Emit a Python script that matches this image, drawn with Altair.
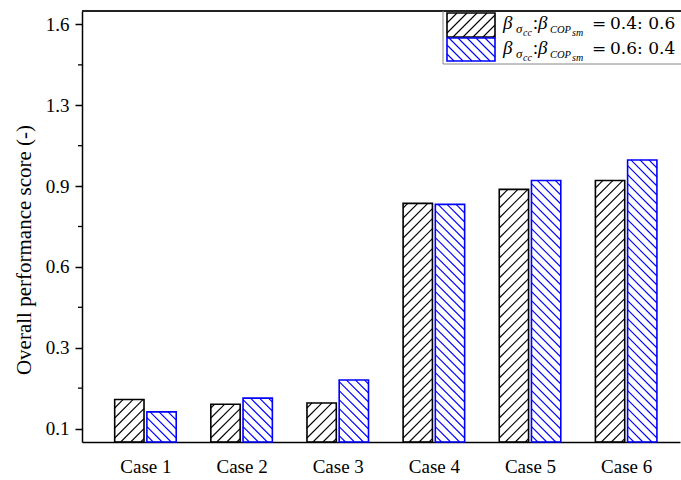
import altair as alt
import pandas as pd
import numpy as np

# ---------------- data ----------------
cases = ["Case 1", "Case 2", "Case 3", "Case 4", "Case 5", "Case 6"]
series_names = ["0.4: 0.6", "0.6: 0.4"]
score_a = [0.158, 0.140, 0.145, 0.886, 0.938, 0.971]   # beta ratio 0.4:0.6
score_b = [0.112, 0.163, 0.230, 0.882, 0.971, 1.047]   # beta ratio 0.6:0.4
y_tick_values = [0.05, 0.35, 0.65, 0.95, 1.25, 1.55]
y_tick_labels = ["0.1", "0.3", "0.6", "0.9", "1.3", "1.6"]
y_minor_values = [0.2, 0.5, 0.8, 1.1, 1.4]
y_title = "Overall performance score (-)"

# ---------------- layout / style ----------------
W, H = 598, 431
LEFT, TOP = 82, 11
XDOM = [-0.66, 5.56]
YDOM = [0.0, 1.6]
PX = W / (XDOM[1] - XDOM[0])
PY = H / (YDOM[1] - YDOM[0])
COLORS = ["#000000", "#0000ff"]
DIRS = [1, -1]
SPACING = [10.0, 9.0]
OFFS = [-0.32, 0.015]
BW = 0.305
SERIF = "Liberation Serif"

xs = alt.Scale(domain=XDOM, nice=False, zero=False)
ys = alt.Scale(domain=YDOM, nice=False, zero=False)

rects = []
for si, vals in enumerate([score_a, score_b]):
    for i, v in enumerate(vals):
        x0 = i + OFFS[si]
        rects.append(dict(case=cases[i], series=series_names[si], x0=x0, x1=x0 + BW,
                          y0=0.0, y1=v, col=COLORS[si], dir=DIRS[si], d=SPACING[si]))
# legend swatches (pixel positions converted to data units)
for si, (pt, pb) in enumerate([(13, 37), (38, 61)]):
    rects.append(dict(case="legend", series=series_names[si],
                      x0=XDOM[0] + (447 - LEFT) / PX, x1=XDOM[0] + (495 - LEFT) / PX,
                      y0=((TOP + H) - pb) / PY, y1=((TOP + H) - pt) / PY,
                      col=COLORS[si], dir=DIRS[si], d=SPACING[si]))
rect_df = pd.DataFrame(rects)


def hatch(r):
    d = r["d"]
    Wp = (r["x1"] - r["x0"]) * PX
    Hp = (r["y1"] - r["y0"]) * PY
    out = []
    for k in range(int(np.floor(-Wp / d)) - 1, int(np.ceil(Hp / d)) + 2):
        c = k * d + 4
        us = max(0.0, -c)
        ue = min(Wp, Hp - c)
        if ue - us < 0.8:
            continue
        ua, va, ub, vb = us, us + c, ue, ue + c
        if r["dir"] < 0:
            ua, ub = Wp - ua, Wp - ub
        out.append(dict(xa=r["x0"] + ua / PX, xb=r["x0"] + ub / PX,
                        ya=r["y0"] + va / PY, yb=r["y0"] + vb / PY, col=r["col"]))
    return out


hatch_rows = []
for _, r in rect_df.iterrows():
    hatch_rows += hatch(r)
hatch_df = pd.DataFrame(hatch_rows)

label_expr = ""
for j, lab in enumerate(y_tick_labels[:-1]):
    mid = (y_tick_values[j] + y_tick_values[j + 1]) / 2
    label_expr += f"datum.value < {mid} ? '{lab}' : "
label_expr += f"'{y_tick_labels[-1]}'"

x_axis = alt.Axis(values=list(range(len(cases))),
                  labelExpr="'Case ' + (datum.value + 1)",
                  ticks=False, grid=False, title=None,
                  domainColor="black", domainWidth=1.5,
                  labelFont=SERIF, labelFontSize=19, labelColor="black",
                  labelPadding=15)
y_axis = alt.Axis(values=y_tick_values, labelExpr=label_expr,
                  grid=False, title=None,
                  domainColor="black", domainWidth=1.5,
                  tickColor="black", tickWidth=1.5, tickSize=7,
                  labelFont=SERIF, labelFontSize=19, labelColor="black",
                  labelPadding=6)

hatch_layer = alt.Chart(hatch_df).mark_rule(strokeWidth=1.1).encode(
    x=alt.X("xa:Q", scale=xs, axis=x_axis),
    x2="xb:Q",
    y=alt.Y("ya:Q", scale=ys, axis=y_axis),
    y2="yb:Q",
    color=alt.Color("col:N", scale=None),
)

bars = alt.Chart(rect_df).mark_rect(fill="white", fillOpacity=0, strokeWidth=1.6).encode(
    x=alt.X("x0:Q", scale=xs),
    x2="x1:Q",
    y=alt.Y("y0:Q", scale=ys),
    y2="y1:Q",
    stroke=alt.Stroke("col:N", scale=None),
)

minor = alt.Chart(pd.DataFrame({"v": y_minor_values})).mark_rule(
    color="black", strokeWidth=1.3).encode(
    y=alt.Y("v:Q", scale=ys), x=alt.value(-4), x2=alt.value(0))

frame_top = alt.Chart(pd.DataFrame({"a": [0]})).mark_rule(
    color="#222222", strokeWidth=2).encode(
    x=alt.value(0), x2=alt.value(W + 2), y=alt.value(0))
legend_left = alt.Chart(pd.DataFrame({"a": [0]})).mark_rule(
    color="#888888", strokeWidth=1).encode(
    x=alt.value(443 - LEFT), y=alt.value(0), y2=alt.value(64 - TOP))
legend_bottom = alt.Chart(pd.DataFrame({"a": [0]})).mark_rule(
    color="#888888", strokeWidth=1).encode(
    x=alt.value(443 - LEFT), x2=alt.value(W + 2), y=alt.value(64 - TOP))

title_layer = alt.Chart(pd.DataFrame({"t": [y_title]})).mark_text(
    font=SERIF, fontSize=21, angle=270, align="center", baseline="middle",
    color="black").encode(
    text="t:N", x=alt.value(25 - LEFT), y=alt.value(250 - TOP))

# legend text pieces (pixel layout)
pieces = []
for li, base in enumerate([29, 54]):
    pieces += [
        dict(t="β", x=503, y=base, s=19, it=1, f=SERIF),
        dict(t="σ", x=516, y=base + 4, s=13, it=1, f=SERIF),
        dict(t="cc", x=523, y=base + 7, s=10, it=1, f=SERIF),
        dict(t=":", x=533, y=base, s=18, it=0, f=SERIF),
        dict(t="β", x=538, y=base, s=19, it=1, f=SERIF),
        dict(t="COP", x=550, y=base + 4, s=10.5, it=1, f=SERIF),
        dict(t="sm", x=572, y=base + 7, s=10, it=1, f=SERIF),
        dict(t="=", x=592, y=base, s=17, it=0, f="DejaVu Serif"),
        dict(t=series_names[li], x=610, y=base, s=17, it=0, f="DejaVu Serif"),
    ]
pdf = pd.DataFrame(pieces)
pdf["px"] = pdf["x"] - LEFT
pdf["py"] = pdf["y"] - TOP

text_layers = []
for it in [0, 1]:
    for font in [SERIF, "DejaVu Serif"]:
        sub = pdf[(pdf["it"] == it) & (pdf["f"] == font)]
        if len(sub) == 0:
            continue
        text_layers.append(
            alt.Chart(sub).mark_text(align="left", baseline="alphabetic", font=font,
                                     fontStyle="italic" if it else "normal",
                                     color="black").encode(
                x=alt.X("px:Q", scale=None),
                y=alt.Y("py:Q", scale=None),
                text="t:N",
                size=alt.Size("s:Q", scale=None),
            )
        )

chart = alt.layer(hatch_layer, bars, minor, frame_top, legend_left, legend_bottom,
                  title_layer, *text_layers).properties(
    width=W, height=H,
    autosize=alt.AutoSizeParams(type="none"),
    padding={"left": LEFT, "top": TOP, "right": 1, "bottom": 38},
    background="white",
).configure_view(stroke=None)

chart.save("out.html", embed_options={"renderer": "svg", "actions": False})
